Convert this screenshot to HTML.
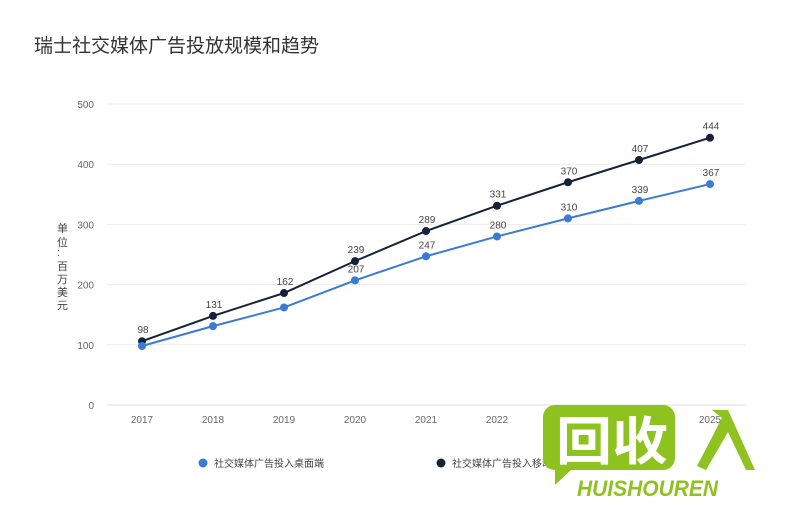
<!DOCTYPE html>
<html><head><meta charset="utf-8"><style>
body{margin:0;background:#fff;width:800px;height:500px;overflow:hidden;font-family:"Liberation Sans","Noto Sans CJK SC",sans-serif}
</style></head><body>
<svg width="800" height="500" id="c" style="font-family:'Liberation Sans','Noto Sans CJK SC',sans-serif">
<text x="34" y="52" font-size="19" fill="#333">瑞士社交媒体广告投放规模和趋势</text>
<g id="grid"></g><g id="lines"></g>
<g font-size="11" fill="#444">
<text x="57" y="232">单</text><text x="57" y="246">位</text><text x="57" y="256">:</text><text x="57" y="270">百</text><text x="57" y="283">万</text><text x="57" y="296">美</text><text x="57" y="309">元</text></g>
<g><circle cx="203" cy="463" r="4.5" fill="#3a7bd5"/><text x="214" y="467" font-size="10" fill="#444">社交媒体广告投入桌面端</text></g>
<g><circle cx="441" cy="463" r="4.5" fill="#142238"/><text x="452" y="467" font-size="10" fill="#444">社交媒体广告投入移动端</text></g>
<g>
<path d="M555,405 h108 a12,12 0 0 1 12,12 v41 a12,12 0 0 1 -12,12 h-92 l-16,15 v-15 a12,12 0 0 1 -12,-12 v-41 a12,12 0 0 1 12,-12z" fill="#8dc21f"/>
<text x="556" y="460" font-size="52" font-weight="bold" fill="#fff" font-family="'Noto Sans CJK SC',sans-serif" textLength="112" lengthAdjust="spacingAndGlyphs">回收</text>
<path d="M697,466 L722,418 L712,410 L728,410 L755,470 L746,470 L728,432 L706,470z" fill="#8dc21f"/>
<text x="577" y="496" font-size="22" font-weight="bold" font-style="italic" fill="#8dc21f" textLength="141" lengthAdjust="spacingAndGlyphs">HUISHOUREN</text>
</g>
</svg>
<script>
const years=["2017","2018","2019","2020","2021","2022","2023","2024","2025"];
const desktop=[98,131,162,207,247,280,310,339,367];
const mobile=[106,148,186,239,289,331,370,407,444];
const yTicks=[0,100,200,300,400,500];
const labelsDesktop=["","","","207","247","280","310","339","367"];
const labelsMobile=["98","131","162","239","289","331","370","407","444"];
const NS="http://www.w3.org/2000/svg";
const x=i=>142+i*71, y=v=>405-v*0.602;
function mk(t,a,p){const e=document.createElementNS(NS,t);for(const k in a)e.setAttribute(k,a[k]);p.appendChild(e);return e;}
const g=document.getElementById('grid'),L=document.getElementById('lines');
yTicks.forEach(v=>{const l=mk('line',{x1:107,x2:745,y1:y(v),y2:y(v),stroke:v?'#ececec':'#ddd'},g);


const t=mk('text',{x:94,y:y(v)+4,'text-anchor':'end','font-size':10,fill:'#666'},g);t.textContent=v;

});
years.forEach((yr,i)=>{const t=mk('text',{x:x(i),y:423,'text-anchor':'middle','font-size':10,fill:'#666'},g);t.textContent=yr;

});
function series(d,lab,col,name){
const p=mk('polyline',{points:d.map((v,i)=>x(i)+','+y(v)).join(' '),fill:'none',stroke:col,'stroke-width':2},L);


d.forEach((v,i)=>{const c=mk('circle',{cx:x(i),cy:y(v),r:4,fill:col},L);


if(lab[i]){const t=mk('text',{x:x(i)+1,y:y(v)-8,'text-anchor':'middle','font-size':10,fill:'#444'},L);t.textContent=lab[i];

}});}
series(mobile,labelsMobile,'#142238','mobile');
series(desktop,labelsDesktop,'#3a7bd5','desktop');
</script>
</body></html>
